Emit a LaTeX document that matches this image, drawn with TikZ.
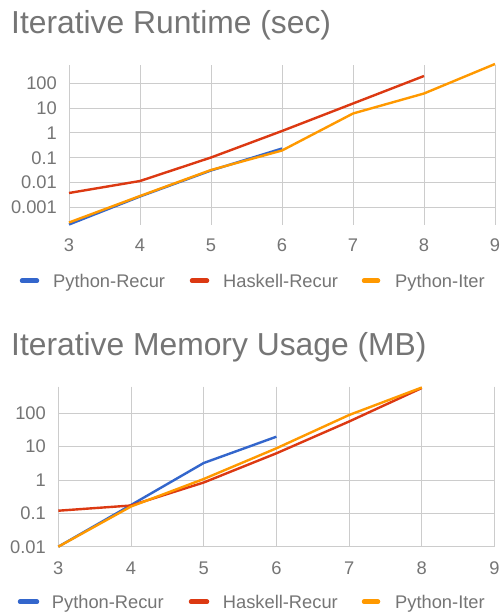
\documentclass[tikz,border=0pt]{standalone}
\usepackage{fontspec}
\setmainfont{Liberation Sans}
\definecolor{gtext}{HTML}{757575}
\definecolor{ggrid}{HTML}{CCCCCC}
\definecolor{gblue}{HTML}{3366CC}
\definecolor{gred}{HTML}{DC3912}
\definecolor{gorange}{HTML}{FF9900}
\tikzset{
  gridline/.style={draw=ggrid, line width=1pt},
  series/.style={line width=2.4pt, line join=round},
  swatch/.style={line width=4.5pt, line cap=round},
  charttitle/.style={text=gtext, font=\fontsize{31.8}{32}\selectfont, inner sep=0pt, anchor=base west},
  ticklab/.style={text=gtext, font=\fontsize{18.3}{18}\selectfont, inner sep=0pt},
  legendlab/.style={text=gtext, font=\fontsize{18.3}{18}\selectfont, inner sep=0pt, anchor=base west}
}
\begin{document}
\begin{tikzpicture}[x=1pt,y=-1pt]
\useasboundingbox[fill=white] (0,0) rectangle (500,613);

% ---------------- Top chart ----------------
\node[charttitle] (t1) at (11,33) {Iterative Runtime (sec)};
\foreach \i [count=\k from 0] in {3,...,9} {
  \draw[gridline] ({69+71*\k},65) -- ({69+71*\k},225);
  \node[ticklab] (tx\i) at ({69+71*\k},245.5) {\i};
}
\foreach \v [count=\k from 0] in {100,10,1,0.1,0.01,0.001} {
  \draw[gridline] (69,{83.3+24.8*\k}) -- (495,{83.3+24.8*\k});
  \node[ticklab, anchor=east] (ty\k) at (57,{83.3+24.8*\k}) {\v};
}
\draw[series, gblue] (69,224.5) -- (140,196.5) -- (211,170.5) -- (282,148.5);
\draw[series, gred] (69,193) -- (140,181) -- (211,157.5) -- (282,131) -- (353,103.5) -- (424,76);
\draw[series, gorange] (69,222.5) -- (140,196) -- (211,170) -- (282,150.5) -- (353,113.5) -- (424,93.5) -- (495,64);

% legend top
\draw[swatch, gblue] (22,280.7) -- (37,280.7);
\node[legendlab] (l1a) at (53,287.3) {Python-Recur};
\draw[swatch, gred] (192,280.7) -- (207,280.7);
\node[legendlab] (l1b) at (223,287.3) {Haskell-Recur};
\draw[swatch, gorange] (364,280.7) -- (378,280.7);
\node[legendlab] (l1c) at (395,287.3) {Python-Iter};

% ---------------- Bottom chart ----------------
\node[charttitle] (t2) at (11,355) {Iterative Memory Usage (MB)};
\foreach \i [count=\k from 0] in {3,...,9} {
  \draw[gridline] ({58.3+72.7*\k},386.7) -- ({58.3+72.7*\k},546.7);
  \node[ticklab] (bx\i) at ({58.3+72.7*\k},567.8) {\i};
}
\foreach \v [count=\k from 0] in {100,10,1,0.1,0.01} {
  \draw[gridline] (58.3,{413.3+33.35*\k}) -- (494.5,{413.3+33.35*\k});
  \node[ticklab, anchor=east] (by\k) at (46,{413.3+33.35*\k}) {\v};
}
\draw[series, gblue] (58.3,546.7) -- (131,505) -- (203.7,463) -- (276.4,436.7);
\draw[series, gred] (58.3,510.7) -- (131,505.5) -- (203.7,482.5) -- (276.4,453.3) -- (349.1,421.5) -- (421.8,388);
\draw[series, gorange] (58.3,546.7) -- (131,506.5) -- (203.7,479) -- (276.4,448.3) -- (349.1,415) -- (421.8,387.5);

% legend bottom
\draw[swatch, gblue] (20,601.7) -- (37,601.7);
\node[legendlab] (l2a) at (51.7,608.3) {Python-Recur};
\draw[swatch, gred] (191,601.7) -- (207,601.7);
\node[legendlab] (l2b) at (222.7,608.3) {Haskell-Recur};
\draw[swatch, gorange] (364,601.7) -- (378,601.7);
\node[legendlab] (l2c) at (395,608.3) {Python-Iter};
\end{tikzpicture}
\end{document}
